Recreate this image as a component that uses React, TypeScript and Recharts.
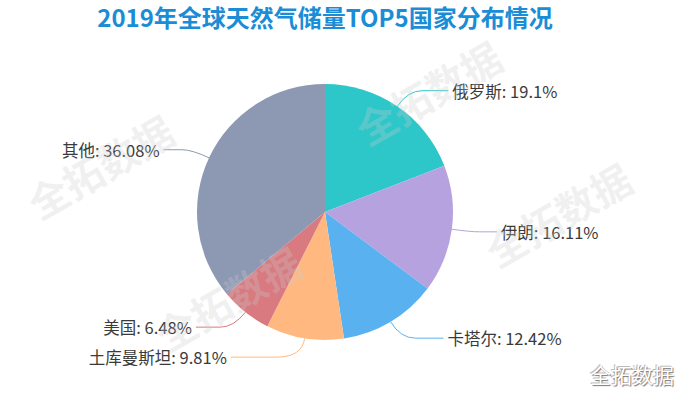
import { PieChart, Pie, Cell } from "recharts";

// ─── Data ───────────────────────────────────────
const COUNTRIES = ["俄罗斯", "伊朗", "卡塔尔", "土库曼斯坦", "美国", "其他"];
const SHARES = [19.1, 16.11, 12.42, 9.81, 6.48, 36.08];
const COLORS = ["#2ec7c9", "#b6a2de", "#5ab1ef", "#ffb980", "#d87a80", "#8d98b3"];

const TITLE = "2019年全球天然气储量TOP5国家分布情况";
const WATERMARK = "全拓数据";

const data = COUNTRIES.map((name, i) => ({ name, value: SHARES[i] }));

const FONT = '"Noto Sans CJK SC", "Noto Sans", sans-serif';
const RADIAN = Math.PI / 180;

// echarts-like label: radial leg, then horizontal leg ending on a circle
const renderLabel = ({ cx, cy, midAngle, outerRadius, index }: any) => {
  const cos = Math.cos(-midAngle * RADIAN);
  const sin = Math.sin(-midAngle * RADIAN);
  const r1 = outerRadius + 19;
  const rEnd = outerRadius + 45;
  const x1 = cx + outerRadius * cos;
  const y1 = cy + outerRadius * sin;
  const x2 = cx + r1 * cos;
  const y2 = cy + r1 * sin;
  const dy = y2 - cy;
  const dir = cos >= 0 ? 1 : -1;
  const x3 = cx + dir * Math.sqrt(Math.max(rEnd * rEnd - dy * dy, 0));
  const y3 = y2;
  const bx = x2 + (x3 - x2) * 0.35;
  const color = COLORS[index % COLORS.length];
  return (
    <g key={`lbl-${index}`}>
      <path
        d={`M${x1},${y1} Q${x2},${y2} ${bx},${y3} L${x3},${y3}`}
        stroke={color}
        strokeWidth={1}
        fill="none"
      />
      <text
        x={x3 + dir * 4}
        y={y3}
        textAnchor={dir > 0 ? "start" : "end"}
        dominantBaseline="central"
        fontSize={16.5}
        fontFamily={FONT}
        fill="#3a3a3a"
      >
        {`${COUNTRIES[index]}: ${SHARES[index]}%`}
      </text>
    </g>
  );
};

export default function App() {
  return (
    <div
      style={{
        position: "absolute",
        left: 0,
        top: 0,
        width: 691,
        height: 398,
        background: "#fff",
        fontFamily: FONT,
        overflow: "hidden",
      }}
    >
      <PieChart
        width={691}
        height={398}
        margin={{ top: 0, right: 0, bottom: 0, left: 0 }}
      >
        <Pie
          data={data}
          dataKey="value"
          nameKey="name"
          cx={325}
          cy={212}
          outerRadius={128}
          startAngle={90}
          endAngle={-270}
          stroke="none"
          label={renderLabel}
          labelLine={false}
          isAnimationActive={false}
        >
          {data.map((_, i) => (
            <Cell key={i} fill={COLORS[i % COLORS.length]} />
          ))}
        </Pie>
      </PieChart>

      {/* ─ title + watermarks ─ */}
      <svg
        width={691}
        height={398}
        style={{ position: "absolute", left: 0, top: 0, pointerEvents: "none" }}
      >
        <text
          x={325}
          y={16}
          textAnchor="middle"
          dominantBaseline="central"
          fontSize={24}
          fontWeight={700}
          fontFamily={FONT}
          fill="#1a8dd6"
        >
          {TITLE}
        </text>
        {[
          [100, 166],
          [228, 298],
          [428, 92],
          [558, 214],
        ].map(([x, y], i) => (
          <text
            key={i}
            x={x}
            y={y}
            textAnchor="middle"
            dominantBaseline="central"
            fontSize={40}
            fontWeight={700}
            fontFamily={FONT}
            fill="rgba(205,205,205,0.28)"
            transform={`rotate(-30 ${x} ${y})`}
          >
            {WATERMARK}
          </text>
        ))}
      </svg>

      <div
        style={{
          position: "absolute",
          left: 590,
          top: 360,
          fontSize: 21,
          color: "#fff",
          lineHeight: "28px",
          textShadow: "1px 1px 1px #777, -1px -1px 0 #bbb",
        }}
      >
        {WATERMARK}
      </div>
    </div>
  );
}
